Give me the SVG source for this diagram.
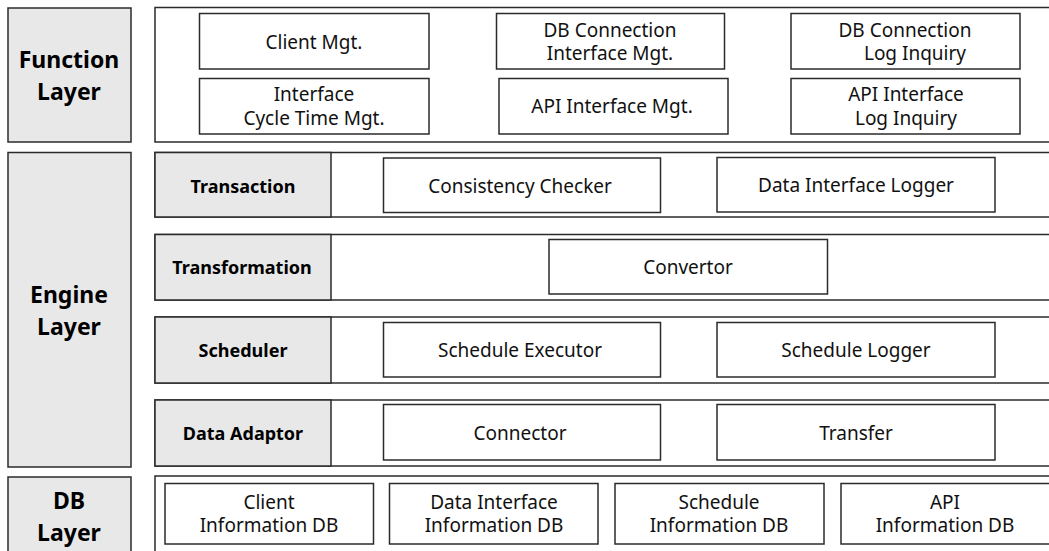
<svg xmlns="http://www.w3.org/2000/svg" width="1049" height="551" viewBox="0 0 1049 551">
  <style>
    .layer { fill: #e8e8e8; stroke: #2b2b2b; stroke-width: 1.5; }
    .panel { fill: #ffffff; stroke: #2b2b2b; stroke-width: 1.5; }
    .tag { fill: #e8e8e8; stroke: #2b2b2b; stroke-width: 1.5; }
    .box { fill: #ffffff; stroke: #2b2b2b; stroke-width: 1.5; }
    .layer-text { font-family: "Noto Sans", "Open Sans", sans-serif; font-weight: bold; font-size: 23px; fill: #000; text-anchor: middle; }
    .tag-text { font-family: "Noto Sans", "Open Sans", sans-serif; font-weight: bold; font-size: 18px; fill: #000; text-anchor: middle; }
    .label { font-family: "Noto Sans", "Open Sans", sans-serif; font-size: 19px; fill: #111; text-anchor: middle; }
  </style>
  <rect width="1049" height="551" fill="#ffffff"/>

  <!-- Function layer -->
  <g id="function-layer">
    <rect class="layer" x="8" y="8" width="123" height="134"/>
    <text class="layer-text" x="69" y="68">Function</text>
    <text class="layer-text" x="69" y="100">Layer</text>
  </g>
  <g id="function-panel">
    <rect class="panel" x="155" y="7.5" width="910" height="134.5"/>
  </g>
  <g id="client-mgt">
    <rect class="box" x="199.5" y="13.5" width="229.5" height="55.5"/>
    <text class="label" x="314" y="48.5">Client Mgt.</text>
  </g>
  <g id="db-connection-interface-mgt">
    <rect class="box" x="496.5" y="13.5" width="228" height="55.5"/>
    <text class="label" x="610" y="36.5">DB Connection</text>
    <text class="label" x="610" y="59.5">Interface Mgt.</text>
  </g>
  <g id="db-connection-log-inquiry">
    <rect class="box" x="791" y="13.5" width="229" height="55.5"/>
    <text class="label" x="905" y="36.5">DB Connection</text>
    <text class="label" x="915" y="59.5">Log Inquiry</text>
  </g>
  <g id="interface-cycle-time-mgt">
    <rect class="box" x="199.5" y="78.5" width="229.5" height="55.5"/>
    <text class="label" x="314" y="100.5">Interface</text>
    <text class="label" x="314" y="124.5">Cycle Time Mgt.</text>
  </g>
  <g id="api-interface-mgt">
    <rect class="box" x="499" y="78.5" width="229" height="55.5"/>
    <text class="label" x="612" y="113">API Interface Mgt.</text>
  </g>
  <g id="api-interface-log-inquiry">
    <rect class="box" x="791" y="78.5" width="229" height="55.5"/>
    <text class="label" x="906" y="100.5">API Interface</text>
    <text class="label" x="906" y="124.5">Log Inquiry</text>
  </g>

  <!-- Engine layer -->
  <g id="engine-layer">
    <rect class="layer" x="8" y="152.5" width="123" height="314.5"/>
    <text class="layer-text" x="69" y="303">Engine</text>
    <text class="layer-text" x="69" y="335">Layer</text>
  </g>

  <g id="transaction">
    <rect class="panel" x="155" y="152.5" width="910" height="64.5"/>
    <rect class="tag" x="155" y="152.5" width="176" height="64.5"/>
    <text class="tag-text" x="243" y="192.5">Transaction</text>
  </g>
  <g id="consistency-checker">
    <rect class="box" x="383.5" y="158" width="277" height="54.5"/>
    <text class="label" x="520" y="192.5">Consistency Checker</text>
  </g>
  <g id="data-interface-logger">
    <rect class="box" x="717" y="157.5" width="278" height="54.5"/>
    <text class="label" x="856" y="192">Data Interface Logger</text>
  </g>

  <g id="transformation">
    <rect class="panel" x="155" y="234.5" width="910" height="65.5"/>
    <rect class="tag" x="155" y="234.5" width="176" height="65.5"/>
    <text class="tag-text" x="242" y="273.5">Transformation</text>
  </g>
  <g id="convertor">
    <rect class="box" x="549" y="239.5" width="278.5" height="54.5"/>
    <text class="label" x="688" y="273.5">Convertor</text>
  </g>

  <g id="scheduler">
    <rect class="panel" x="155" y="317" width="910" height="66"/>
    <rect class="tag" x="155" y="317" width="176" height="66"/>
    <text class="tag-text" x="243" y="356.5">Scheduler</text>
  </g>
  <g id="schedule-executor">
    <rect class="box" x="383.5" y="322.5" width="277" height="54.5"/>
    <text class="label" x="520" y="356.5">Schedule Executor</text>
  </g>
  <g id="schedule-logger">
    <rect class="box" x="717" y="322.5" width="278" height="54.5"/>
    <text class="label" x="856" y="356.5">Schedule Logger</text>
  </g>

  <g id="data-adaptor">
    <rect class="panel" x="155" y="400" width="910" height="66"/>
    <rect class="tag" x="155" y="400" width="176" height="66"/>
    <text class="tag-text" x="243" y="439.5">Data Adaptor</text>
  </g>
  <g id="connector">
    <rect class="box" x="383.5" y="404.5" width="277" height="55.5"/>
    <text class="label" x="520" y="439.5">Connector</text>
  </g>
  <g id="transfer">
    <rect class="box" x="717" y="404.5" width="278" height="55.5"/>
    <text class="label" x="856" y="439.5">Transfer</text>
  </g>

  <!-- DB layer -->
  <g id="db-layer">
    <rect class="layer" x="8" y="477" width="123" height="90"/>
    <text class="layer-text" x="69" y="509">DB</text>
    <text class="layer-text" x="69" y="541">Layer</text>
  </g>
  <g id="db-panel">
    <rect class="panel" x="155" y="476" width="910" height="90"/>
  </g>
  <g id="client-information-db">
    <rect class="box" x="165" y="483.5" width="208.5" height="60.5"/>
    <text class="label" x="269" y="509">Client</text>
    <text class="label" x="269" y="532">Information DB</text>
  </g>
  <g id="data-interface-information-db">
    <rect class="box" x="389.5" y="483.5" width="208.5" height="60.5"/>
    <text class="label" x="494" y="509">Data Interface</text>
    <text class="label" x="494" y="532">Information DB</text>
  </g>
  <g id="schedule-information-db">
    <rect class="box" x="615" y="483.5" width="209" height="60.5"/>
    <text class="label" x="719" y="509">Schedule</text>
    <text class="label" x="719" y="532">Information DB</text>
  </g>
  <g id="api-information-db">
    <rect class="box" x="841" y="483.5" width="209" height="60.5"/>
    <text class="label" x="945" y="509">API</text>
    <text class="label" x="945" y="532">Information DB</text>
  </g>

  <!-- no connectors between blocks; layers are stacked -->
  <g id="connectors"/>
</svg>
